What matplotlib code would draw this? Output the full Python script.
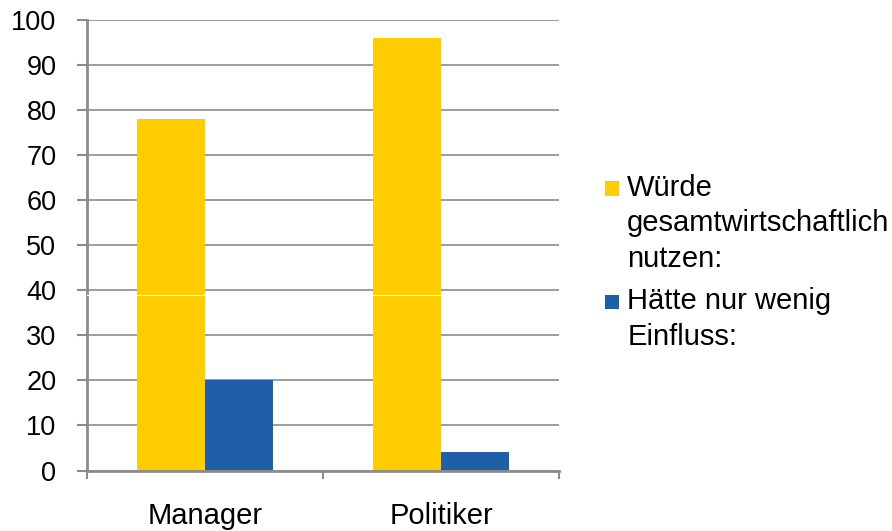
import matplotlib
matplotlib.use("Agg")
import matplotlib.pyplot as plt
import matplotlib.patches as mpatches
from matplotlib.legend_handler import HandlerPatch
import numpy as np

plt.rcParams['font.family'] = ['Liberation Sans', 'DejaVu Sans']

categories = ["Manager", "Politiker"]
series_names = ["Würde\ngesamtwirtschaftlich\nnutzen:", "Hätte nur wenig\nEinfluss:"]
nutzen = [78, 96]
einfluss = [20, 4]
y_ticks = [0, 10, 20, 30, 40, 50, 60, 70, 80, 90, 100]

YELLOW = "#FFCC00"
BLUE = "#1F5FA8"
GRID = "#8c8c8c"
FS_Y = 19.5
FS_X = 21
FS_LEG = 21
LINESP = 1.33

fig = plt.figure(figsize=(8.92, 5.31), dpi=100)
ax = fig.add_axes([0.0975, 0.1139, 0.5292, 0.8484])

x = np.arange(len(categories))
w = 0.288
b1 = ax.bar(x - w / 2, nutzen, w, color=YELLOW, zorder=3, linewidth=0)
b2 = ax.bar(x + w / 2, einfluss, w, color=BLUE, zorder=3, linewidth=0)

ax.set_xlim(-0.5, len(categories) - 0.5)
ax.set_ylim(0, 100)
ax.set_yticks(y_ticks)
ax.set_yticklabels([str(v) for v in y_ticks])
ax.yaxis.grid(True, color=GRID, lw=1.2, zorder=0)
ax.set_axisbelow(True)

# category boundaries as major ticks, names as minor ticks
ax.set_xticks(np.arange(len(categories) + 1) - 0.5)
ax.set_xticklabels([])
ax.set_xticks(x, minor=True)
ax.set_xticklabels(categories, minor=True)
ax.tick_params(axis='x', which='major', length=6, width=1.5, color=GRID, direction='out')
ax.tick_params(axis='x', which='minor', length=0, pad=23, labelsize=FS_X)
ax.tick_params(axis='y', length=7, width=1.5, color=GRID, pad=15, labelsize=FS_Y)

for s in ['top', 'right']:
    ax.spines[s].set_visible(False)
for s in ['left', 'bottom']:
    ax.spines[s].set_color(GRID)
    ax.spines[s].set_linewidth(2.0)
    ax.spines[s].set_zorder(4)

# thin white rendering seam seen in the original
ax.axhline(38.9, color="white", lw=0.8, zorder=6)

HALF_LINE = FS_LEG * 0.94 * LINESP / 2


def make_patch_func(nlines):
    def f(legend, orig_handle, xdescent, ydescent, width, height, fontsize):
        size = 10.5
        return mpatches.Rectangle((-xdescent, (nlines - 1) * HALF_LINE + 0.08 * fontsize),
                                  size, size)
    return f


def upd(h, o):
    h.update_from(o.patches[0])


handler_map = {
    b1: HandlerPatch(patch_func=make_patch_func(series_names[0].count("\n") + 1), update_func=upd),
    b2: HandlerPatch(patch_func=make_patch_func(series_names[1].count("\n") + 1), update_func=upd),
}

leg = fig.legend([b1, b2], series_names, handler_map=handler_map,
                 loc='upper left', bbox_to_anchor=(0.678, 0.672),
                 frameon=False, fontsize=FS_LEG, borderpad=0, borderaxespad=0,
                 handlelength=0.52, handleheight=0.7, handletextpad=0.25,
                 labelspacing=0.5)
for t in leg.get_texts():
    t.set_linespacing(LINESP)

fig.savefig("out.png", dpi=100)
